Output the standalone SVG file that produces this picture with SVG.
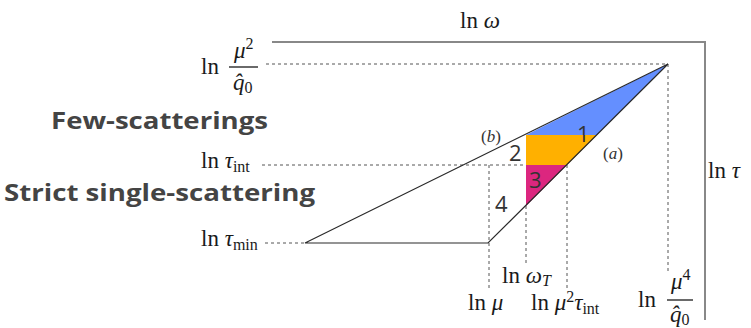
<svg xmlns="http://www.w3.org/2000/svg" width="751" height="328" viewBox="0 0 751 328">
<style>
.math{font-family:"Liberation Serif","Times New Roman",serif;font-size:23px;fill:#1a1a1a}
.it{font-style:italic}
.sub{font-size:16px}
.num{font-family:"Open Sans","Noto Sans",sans-serif;font-size:22px;fill:#333}
.bold{font-family:"Open Sans","Noto Sans",sans-serif;font-weight:bold;font-size:23px;fill:#444}
.lab{font-family:"Liberation Serif",serif;font-size:17px;fill:#333}
.dash{stroke:#555;stroke-width:1;stroke-dasharray:3 3;fill:none}
.axis{stroke:#888;stroke-width:2;fill:none}
.edge{stroke:#2a2a2a;stroke-width:1.2;fill:none}
</style>
<rect width="751" height="328" fill="#fff"/>
<g id="axes">
<path class="axis" d="M272 42 H705 V320"/>
</g>
<g id="regions">
<polygon id="region1" points="526,135 597,135 668,64" fill="#648FFF"/>
<polygon id="region2" points="526,135 597,135 567,165 526,165" fill="#FFB000"/>
<polygon id="region3" points="526,165 567,165 526,206" fill="#DC267F"/>
</g>
<g id="connectors">
<path class="dash" d="M266 64 H668 V273"/>
<path class="dash" d="M262 165 H526"/>
<path class="dash" d="M489 165 V288"/>
<path class="dash" d="M526 206 V266"/>
<path class="dash" d="M567 165 V288"/>
<path class="dash" d="M265 243 H305"/>
<path class="edge" d="M305 243 L668 64 L488 243 Z"/>
</g>
<g id="labels">
<text class="math" x="460" y="28">ln <tspan class="it">ω</tspan></text>
<text class="math" x="708" y="178">ln <tspan class="it">τ</tspan></text>
<g id="lbl-mu2q0">
<text class="math" x="201" y="74">ln</text>
<text class="math it" x="234" y="58">μ<tspan class="sub" font-style="normal" dy="-9">2</tspan></text>
<line x1="229" y1="67" x2="258" y2="67" stroke="#1a1a1a" stroke-width="1.3"/>
<text class="math it" x="233" y="90">q̂<tspan class="sub" font-style="normal" dy="3">0</tspan></text>
</g>
<text class="math" x="201" y="168">ln <tspan class="it">τ</tspan><tspan class="sub" dy="4">int</tspan></text>
<text class="math" x="201" y="246">ln <tspan class="it">τ</tspan><tspan class="sub" dy="4">min</tspan></text>
<text class="math" x="502" y="283">ln <tspan class="it">ω</tspan><tspan class="sub it" dy="3">T</tspan></text>
<text class="math" x="468" y="310">ln <tspan class="it">μ</tspan></text>
<text class="math" x="531" y="310">ln <tspan class="it">μ</tspan><tspan class="sub" dy="-8">2</tspan><tspan class="it" dy="8">τ</tspan><tspan class="sub" dy="4">int</tspan></text>
<g id="lbl-mu4q0">
<text class="math" x="638" y="307">ln</text>
<text class="math it" x="671" y="289">μ<tspan class="sub" font-style="normal" dy="-9">4</tspan></text>
<line x1="667" y1="300" x2="693" y2="300" stroke="#1a1a1a" stroke-width="1.3"/>
<text class="math it" x="670" y="322">q̂<tspan class="sub" font-style="normal" dy="3">0</tspan></text>
</g>
<text class="lab" x="481" y="142"><tspan>(</tspan><tspan font-style="italic">b</tspan><tspan>)</tspan></text>
<text class="lab" x="603" y="159"><tspan>(</tspan><tspan font-style="italic">a</tspan><tspan>)</tspan></text>
</g>
<g id="numbers">
<text class="num" x="577" y="142">1</text>
<text class="num" x="509" y="161">2</text>
<text class="num" x="529" y="188">3</text>
<text class="num" x="495" y="212">4</text>
</g>
<g id="titles">
<text class="bold" x="51" y="129" textLength="217" lengthAdjust="spacingAndGlyphs">Few-scatterings</text>
<text class="bold" x="4" y="201" textLength="311" lengthAdjust="spacingAndGlyphs">Strict single-scattering</text>
</g>
</svg>
